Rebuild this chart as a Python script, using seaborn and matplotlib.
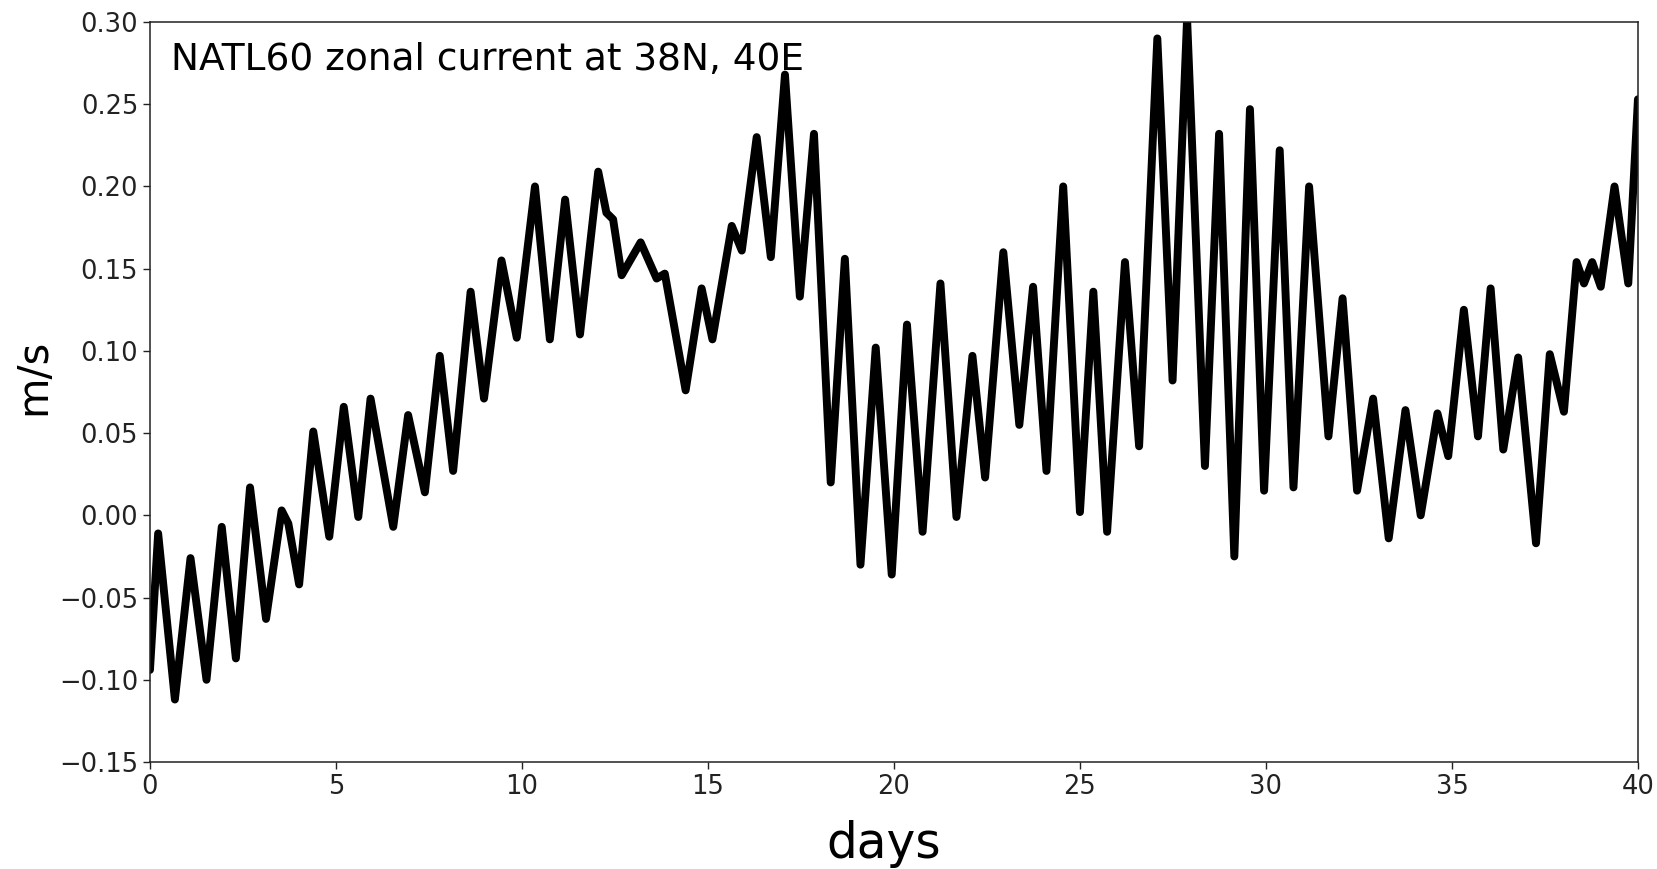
#for operations
import numpy as np
import pandas as pd

#for data visualisation
import matplotlib
matplotlib.use('Agg')
import matplotlib.pyplot as plt
import seaborn as sns

#turning points of the series (days, m/s)
days = [0.00, 0.22, 0.67, 1.09, 1.52, 1.93, 2.31, 2.69, 3.12, 3.54, 3.72, 4.01,
        4.39, 4.82, 5.21, 5.60, 5.93, 6.54, 6.94, 7.39, 7.79, 8.15, 8.62, 8.98,
        9.45, 9.86, 10.35, 10.75, 11.16, 11.56, 12.05, 12.27, 12.45, 12.68, 13.19, 13.62,
        13.84, 14.40, 14.83, 15.12, 15.64, 15.91, 16.31, 16.69, 17.07, 17.47, 17.85, 18.30,
        18.68, 19.10, 19.51, 19.94, 20.35, 20.77, 21.25, 21.68, 22.11, 22.45, 22.94, 23.37,
        23.74, 24.10, 24.55, 25.00, 25.36, 25.73, 26.21, 26.59, 27.08, 27.49, 27.88, 28.36,
        28.74, 29.15, 29.57, 29.95, 30.37, 30.74, 31.16, 31.68, 32.06, 32.45, 32.88, 33.30,
        33.75, 34.16, 34.61, 34.90, 35.32, 35.70, 36.04, 36.38, 36.78, 37.26, 37.63, 38.01,
        38.35, 38.55, 38.77, 39.00, 39.37, 39.74, 40.00]
u = [-0.094, -0.011, -0.112, -0.026, -0.100, -0.007, -0.087, 0.017, -0.063, 0.003, -0.005, -0.042,
     0.051, -0.013, 0.066, -0.001, 0.071, -0.007, 0.061, 0.014, 0.097, 0.027, 0.136, 0.071,
     0.155, 0.108, 0.200, 0.107, 0.192, 0.110, 0.209, 0.184, 0.180, 0.146, 0.166, 0.144,
     0.147, 0.076, 0.138, 0.107, 0.176, 0.161, 0.230, 0.157, 0.268, 0.133, 0.232, 0.020,
     0.156, -0.030, 0.102, -0.036, 0.116, -0.010, 0.141, -0.001, 0.097, 0.023, 0.160, 0.055,
     0.139, 0.027, 0.200, 0.002, 0.136, -0.010, 0.154, 0.042, 0.290, 0.082, 0.302, 0.030,
     0.232, -0.025, 0.247, 0.015, 0.222, 0.017, 0.200, 0.048, 0.132, 0.015, 0.071, -0.014,
     0.064, 0.000, 0.062, 0.036, 0.125, 0.048, 0.138, 0.040, 0.096, -0.017, 0.098, 0.063,
     0.154, 0.141, 0.154, 0.139, 0.200, 0.141, 0.253]

xticks = [0, 5, 10, 15, 20, 25, 30, 35, 40]
yticks = [-0.15, -0.10, -0.05, 0.00, 0.05, 0.10, 0.15, 0.20, 0.25, 0.30]

data = pd.DataFrame({'days': days, 'u': u})

fig = plt.figure(figsize=(16.57, 8.69), dpi=100)
ax = fig.add_axes([0.0905, 0.1231, 0.898, 0.8516])

sns.lineplot(data=data, x='days', y='u', color='black', linewidth=5.7,
             solid_joinstyle='round', solid_capstyle='round', ax=ax)

ax.set_xlim(0, 40)
ax.set_ylim(-0.15, 0.30)
ax.set_xticks(xticks)
ax.set_yticks(yticks)
ax.set_yticklabels([f'{t:.2f}'.replace('-', '\u2212') for t in yticks])
ax.tick_params(labelsize=18.5, length=5, width=1, colors='#222222')
for s in ax.spines.values():
    s.set_linewidth(1.1)
    s.set_color('#222222')

ax.set_xlabel('days', fontsize=35)
ax.set_ylabel('m/s', fontsize=30)
ax.xaxis.set_label_coords(0.493, -0.078)
ax.yaxis.set_label_coords(-0.064, 0.52)

#title inside the axes
ax.text(0.014, 0.935, 'NATL60 zonal current at 38N, 40E', transform=ax.transAxes,
        fontsize=27, va='baseline', ha='left')

plt.savefig('out.png', dpi=100)
